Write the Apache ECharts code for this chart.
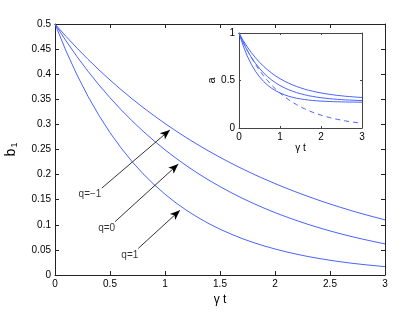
<!DOCTYPE html>
<html>
<head>
<meta charset="utf-8">
<script src="https://cdn.jsdelivr.net/npm/echarts@6/dist/echarts.min.js"></script>
<style>html,body{margin:0;padding:0;background:#fff}#c{width:415px;height:312px}</style>
</head>
<body>
<div id="c"></div>
<script>
// time grid (gamma t)
var tValues = [0,0.1,0.2,0.3,0.4,0.5,0.6,0.7,0.8,0.9,1.0,1.1,1.2,1.3,1.4,1.5,1.6,1.7,1.8,1.9,2.0,2.1,2.2,2.3,2.4,2.5,2.6,2.7,2.8,2.9,3.0];
// main panel b1 values
var bQm1 = [0.5,0.4754,0.4520,0.4297,0.4085,0.3884,0.3693,0.3511,0.3338,0.3174,0.3017,0.2869,0.2727,0.2593,0.2465,0.2344,0.2228,0.2119,0.2014,0.1915,0.1821,0.1731,0.1646,0.1565,0.1488,0.1414,0.1345,0.1278,0.1215,0.1156,0.1099];
var bQ0 = [0.5,0.4664,0.4350,0.4058,0.3785,0.3531,0.3293,0.3072,0.2865,0.2673,0.2493,0.2326,0.2169,0.2023,0.1887,0.1761,0.1642,0.1532,0.1429,0.1333,0.1243,0.1160,0.1082,0.1009,0.0941,0.0878,0.0819,0.0764,0.0713,0.0665,0.0620];
var bQ1 = [0.5,0.4464,0.3985,0.3558,0.3177,0.2836,0.2532,0.2261,0.2018,0.1802,0.1609,0.1436,0.1282,0.1145,0.1022,0.0912,0.0815,0.0727,0.0649,0.0580,0.0518,0.0462,0.0413,0.0368,0.0329,0.0294,0.0262,0.0234,0.0209,0.0187,0.0167];
// inset values a
var aTop = [1.000,0.923,0.855,0.794,0.740,0.692,0.649,0.611,0.577,0.546,0.519,0.495,0.474,0.455,0.438,0.423,0.409,0.397,0.387,0.377,0.369,0.361,0.355,0.349,0.343,0.339,0.334,0.331,0.327,0.324,0.322];
var aMid = [1.000,0.902,0.818,0.745,0.682,0.627,0.580,0.539,0.504,0.474,0.447,0.425,0.405,0.388,0.373,0.361,0.350,0.340,0.332,0.325,0.319,0.314,0.309,0.305,0.302,0.299,0.296,0.294,0.292,0.290,0.289];
var aLow = [1.000,0.868,0.759,0.671,0.598,0.539,0.490,0.450,0.417,0.391,0.369,0.351,0.336,0.324,0.314,0.306,0.300,0.294,0.290,0.286,0.283,0.281,0.279,0.277,0.276,0.275,0.274,0.273,0.273,0.272,0.272];
var aDash = [1,0.905,0.819,0.741,0.670,0.607,0.549,0.497,0.449,0.407,0.368,0.333,0.301,0.273,0.247,0.223,0.202,0.183,0.165,0.150,0.135,0.122,0.111,0.100,0.091,0.082,0.074,0.067,0.061,0.055,0.050];
// annotations
var annoText = ['q=\u22121','q=0','q=1'];
var annoLabelPos = [[0.318,0.161],[0.47,0.093],[0.68,0.040]];
var arrowStart = [[0.425,0.173],[0.545,0.106],[0.757,0.053]];
var arrowEnd = [[1.045,0.289],[1.121,0.221],[1.136,0.129]];

function pairs(v){ return tValues.map(function(t,i){return [t,v[i]];}); }

var FONT = 'Liberation Sans';
var BLUE = '#4a64ff';
var AX = '#222';

function ax(grid, max, interval, show, pos, tickLen, color, fs){
  return {type:'value', gridIndex:grid, min:0, max:max, interval:interval, position:pos,
    axisLine:{show:true, onZero:false, lineStyle:{color:color, width:1}},
    axisTick:{show:true, inside:true, length:tickLen, lineStyle:{color:color}},
    splitLine:{show:false},
    axisLabel:{show:show, color:'#000', fontFamily:FONT, fontSize:fs||10, margin:4,
      formatter:function(v){return String(+v.toFixed(2));}}};
}

var option = {
  animation:false,
  backgroundColor:'#fff',
  grid:[
    {left:55, right:30, top:24, bottom:37, show:false, containLabel:false, outerBoundsMode:'none'},
    {left:239, top:33, width:123, height:95, show:true, backgroundColor:'#fff', borderWidth:0, z:5, containLabel:false, outerBoundsMode:'none'}
  ],
  xAxis:[
    Object.assign(ax(0,3,0.5,true,'bottom',4,AX),{name:'\u03b3 t', nameLocation:'middle', nameGap:19, nameTextStyle:{fontFamily:FONT, fontSize:12, color:'#000'}}),
    ax(0,3,0.5,false,'top',4,AX),
    Object.assign(ax(1,3,1,true,'bottom',2,'#444'),{z:6, name:'\u03b3 t', nameLocation:'middle', nameGap:15, nameTextStyle:{fontFamily:FONT, fontSize:10, color:'#000'}}),
    Object.assign(ax(1,3,1,false,'top',2,'#444'),{z:6})
  ],
  yAxis:[
    Object.assign(ax(0,0.5,0.05,true,'left',4,AX),{name:'{b|b}{s|1}', nameLocation:'middle', nameGap:36, nameRotate:90,
      nameTextStyle:{fontFamily:FONT, color:'#000', rich:{b:{fontSize:14, fontFamily:FONT}, s:{fontSize:9, fontFamily:FONT, verticalAlign:'bottom', padding:[6,0,0,1]}}}}),
    ax(0,0.5,0.05,false,'right',4,AX),
    Object.assign(ax(1,1,0.5,true,'left',2,'#444'),{z:6, name:'a', nameLocation:'middle', nameGap:18, nameRotate:90, nameTextStyle:{fontFamily:FONT, fontSize:11, color:'#000'}}),
    Object.assign(ax(1,1,0.5,false,'right',2,'#444'),{z:6})
  ],
  series:[
    {type:'line', xAxisIndex:0, yAxisIndex:0, data:pairs(bQm1), showSymbol:false, lineStyle:{color:BLUE, width:1}, z:2,
      markLine:{silent:true, symbol:['none','arrow'], symbolSize:[6,10], lineStyle:{color:'#000', width:0.8, type:'solid'}, label:{show:false},
        data: arrowStart.map(function(s,i){return [{coord:s},{coord:arrowEnd[i]}];})}},
    {type:'line', xAxisIndex:0, yAxisIndex:0, data:pairs(bQ0), showSymbol:false, lineStyle:{color:BLUE, width:1}, z:2},
    {type:'line', xAxisIndex:0, yAxisIndex:0, data:pairs(bQ1), showSymbol:false, lineStyle:{color:BLUE, width:1}, z:2},
    {type:'scatter', xAxisIndex:0, yAxisIndex:0, symbolSize:0, z:3,
      data: annoLabelPos.map(function(p,i){return {value:p, name:annoText[i]};}),
      label:{show:true, position:'inside', formatter:function(p){return p.name;}, color:'#000', fontFamily:FONT, fontSize:10}},
    {type:'line', xAxisIndex:2, yAxisIndex:2, data:pairs(aTop), showSymbol:false, lineStyle:{color:BLUE, width:1}, z:7},
    {type:'line', xAxisIndex:2, yAxisIndex:2, data:pairs(aMid), showSymbol:false, lineStyle:{color:BLUE, width:1}, z:7},
    {type:'line', xAxisIndex:2, yAxisIndex:2, data:pairs(aLow), showSymbol:false, lineStyle:{color:BLUE, width:1}, z:7},
    {type:'line', xAxisIndex:2, yAxisIndex:2, data:pairs(aDash), showSymbol:false, lineStyle:{color:BLUE, width:1, type:[5,4]}, z:7}
  ]
};
var chart = echarts.init(document.getElementById('c'), null, {renderer:'canvas'});
chart.setOption(option);
</script>
</body>
</html>
